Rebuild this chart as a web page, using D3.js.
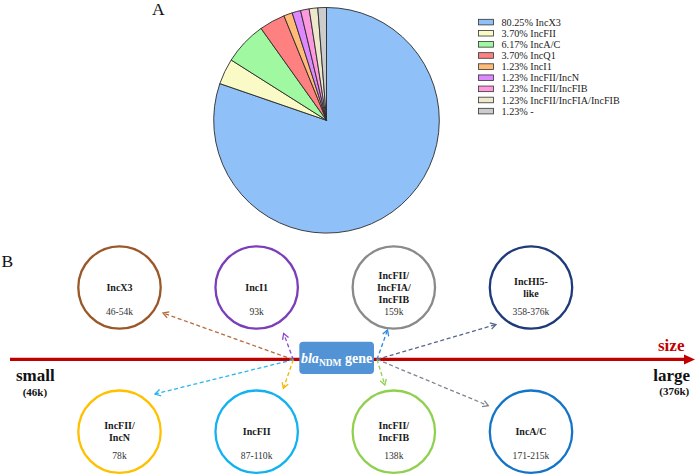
<!DOCTYPE html>
<html>
<head>
<meta charset="utf-8">
<script src="https://cdn.jsdelivr.net/npm/d3@7"></script>
<style>
  html, body { margin: 0; padding: 0; background: #fff; }
  svg { display: block; font-family: "Liberation Serif", "Times New Roman", serif; }
</style>
</head>
<body>
<svg id="chart" width="696" height="475"></svg>
<script>
// ---------- Panel A data ----------
const pieLabels = ["IncX3", "IncFII", "IncA/C", "IncQ1", "IncI1", "IncFII/IncN", "IncFII/IncFIB", "IncFII/IncFIA/IncFIB", "-"];
const pieValues = [80.25, 3.70, 6.17, 3.70, 1.23, 1.23, 1.23, 1.23, 1.23];
const pieColors = ["#90C0F8", "#FAFAC6", "#A0F8A0", "#FF8080", "#FFBB77", "#DD88FF", "#FF99DD", "#EEE8CC", "#CCCCCC"];

// ---------- Panel B data ----------
const plasmidLines = [["IncX3"], ["IncI1"], ["IncFII/", "IncFIA/", "IncFIB"], ["IncHI5-", "like"],
                      ["IncFII/", "IncN"], ["IncFII"], ["IncFII/", "IncFIB"], ["IncA/C"]];
const plasmidSizes = ["46-54k", "93k", "159k", "358-376k", "78k", "87-110k", "138k", "171-215k"];
const plasmidColumn = [0, 1, 2, 3, 0, 1, 2, 3];
const plasmidRow = ["top", "top", "top", "top", "bottom", "bottom", "bottom", "bottom"];
const sizeEnds = ["small", "large"];
const sizeEndValues = ["(46k)", "(376k)"];

// ---------- styles / layout ----------
const circleColors = ["#9A5828", "#7B3DB8", "#8A8A8A", "#1E3A78", "#FFC000", "#12B2F0", "#8FD14F", "#1475C8"];
const arrowColors  = ["#B86B3A", "#8A4AD0", "#2BB5EE", "#F5B800", "#2A8AE0", "#56678A", "#8FD14F", "#7F8590"];
// arrow target offsets relative to each circle centre (diagram layout)
const arrowOffsets = [[43.5, 25.5], [27, 46], [-6.3, 42.5], [-35, 37], [35.5, -37.7], [26.7, -43.4], [-9, -46.7], [-42.7, -26]];
const arrowTargets = [0, 1, 2, 3, 4, 5, 6, 7];
const arrowColorFor = [0, 1, 4, 5, 2, 3, 6, 7];

const svg = d3.select("#chart");

// ================= Panel A =================
svg.append("text").attr("x", 152).attr("y", 14.5).attr("font-size", 17.5).attr("fill", "#111").text("A");

const pieCx = 326.5, pieCy = 120.3, pieR = 112.8;
const pie = d3.pie().sort(null).value(d => d);
const arc = d3.arc().innerRadius(0).outerRadius(pieR);
const pg = svg.append("g").attr("transform", `translate(${pieCx},${pieCy})`);
pg.selectAll("path").data(pie(pieValues)).join("path")
  .attr("d", arc)
  .attr("fill", (d, i) => pieColors[i])
  .attr("stroke", "#2a2a2a")
  .attr("stroke-width", 0.9)
  .attr("stroke-linejoin", "round");

const legendY = d3.scalePoint().domain(d3.range(pieLabels.length)).range([22.1, 111.1]);
const lg = svg.append("g");
const items = lg.selectAll("g").data(pieLabels).join("g")
  .attr("transform", (d, i) => `translate(478.5,${legendY(i)})`);
items.append("rect").attr("x", 0).attr("y", -2.8).attr("width", 15).attr("height", 5.6)
  .attr("fill", (d, i) => pieColors[i]).attr("stroke", "#333").attr("stroke-width", 0.8);
items.append("text").attr("x", 23).attr("y", 3.6).attr("font-size", 10.2).attr("fill", "#222")
  .text((d, i) => pieValues[i].toFixed(2) + "% " + d);

// ================= Panel B =================
svg.append("text").attr("x", 1.5).attr("y", 267).attr("font-size", 17.5).attr("fill", "#111").text("B");

const colX = d3.scalePoint().domain([0, 1, 2, 3]).range([119.5, 531]);
const rowY = d3.scaleOrdinal().domain(["top", "bottom"]).range([287.5, 431.7]);
const circR = 41.2;
const axisY = 359.4;

// size axis (red arrow)
const sizeX = d3.scaleLinear().domain([0, 1]).range([10, 695]);
svg.append("line").attr("x1", sizeX(0)).attr("x2", sizeX(1) - 9).attr("y1", axisY).attr("y2", axisY)
  .attr("stroke", "#C00000").attr("stroke-width", 3.2);
svg.append("path")
  .attr("d", `M${sizeX(1) - 11},${axisY - 5} L${sizeX(1)},${axisY} L${sizeX(1) - 11},${axisY + 5} Z`)
  .attr("fill", "#C00000");
svg.append("text").attr("x", 658).attr("y", 351).attr("font-size", 17).attr("font-weight", "bold")
  .attr("fill", "#C00000").text("size");

svg.append("text").attr("x", 16).attr("y", 380.5).attr("font-size", 17).attr("font-weight", "bold").attr("fill", "#111").text(sizeEnds[0]);
svg.append("text").attr("x", 22.7).attr("y", 395.5).attr("font-size", 11).attr("font-weight", "bold").attr("fill", "#111").text(sizeEndValues[0]);
svg.append("text").attr("x", 653.3).attr("y", 380.5).attr("font-size", 17).attr("font-weight", "bold").attr("fill", "#111").text(sizeEnds[1]);
svg.append("text").attr("x", 659.3).attr("y", 395.3).attr("font-size", 11).attr("font-weight", "bold").attr("fill", "#111").text(sizeEndValues[1]);

// dashed arrows
const box = { x0: 299.3, x1: 374, y0: 341.7, y1: 374 };
const originL = [box.x0 - 6, axisY + 0.3];
const originR = [box.x1 + 3, axisY];
const defs = svg.append("defs");
arrowColors.forEach((c, i) => {
  defs.append("marker").attr("id", "ah" + i)
    .attr("viewBox", "0 0 8 8").attr("refX", 6.5).attr("refY", 4)
    .attr("markerWidth", 8).attr("markerHeight", 8).attr("markerUnits", "userSpaceOnUse")
    .attr("orient", "auto")
    .append("path").attr("d", "M1,0.8 L6.5,4 L1,7.2")
    .attr("fill", "none").attr("stroke", c).attr("stroke-width", 1.3).attr("stroke-dasharray", "none");
});
const ag = svg.append("g");
arrowTargets.forEach((t, i) => {
  const cx = colX(plasmidColumn[t]), cy = rowY(plasmidRow[t]);
  const o = plasmidColumn[t] < 2 ? originL : originR;
  const ci = arrowColorFor[i];
  ag.append("line")
    .attr("x1", o[0]).attr("y1", o[1])
    .attr("x2", cx + arrowOffsets[t][0]).attr("y2", cy + arrowOffsets[t][1])
    .attr("stroke", arrowColors[ci]).attr("stroke-width", 1.3)
    .attr("stroke-dasharray", "4,2.6")
    .attr("marker-end", `url(#ah${ci})`);
});

// blaNDM gene box
svg.append("rect").attr("x", box.x0).attr("y", box.y0).attr("width", box.x1 - box.x0).attr("height", box.y1 - box.y0)
  .attr("rx", 4).attr("fill", "#5193D4");
const bt = svg.append("text").attr("x", (box.x0 + box.x1) / 2).attr("y", 363).attr("text-anchor", "middle")
  .attr("fill", "#fff").attr("font-weight", "bold").attr("font-size", 14);
bt.append("tspan").attr("font-style", "italic").text("bla");
bt.append("tspan").attr("font-size", 9.5).attr("dy", 3).text("NDM");
bt.append("tspan").attr("dy", -3).text(" gene");

// plasmid circles
const cg = svg.append("g");
plasmidLines.forEach((lines, i) => {
  const cx = colX(plasmidColumn[i]), cy = rowY(plasmidRow[i]);
  cg.append("circle").attr("cx", cx).attr("cy", cy).attr("r", circR)
    .attr("fill", "#fff").attr("stroke", circleColors[i]).attr("stroke-width", 2.3);
  const first = cy + 3.5 - 6 * (lines.length - 1);
  lines.forEach((ln, j) => {
    cg.append("text").attr("x", cx).attr("y", first + 12 * j).attr("text-anchor", "middle")
      .attr("font-size", 10).attr("font-weight", "bold").attr("fill", "#1a1a1a").text(ln);
  });
  cg.append("text").attr("x", cx).attr("y", cy + 27).attr("text-anchor", "middle")
    .attr("font-size", 9.6).attr("fill", "#333").text(plasmidSizes[i]);
});
</script>
</body>
</html>
